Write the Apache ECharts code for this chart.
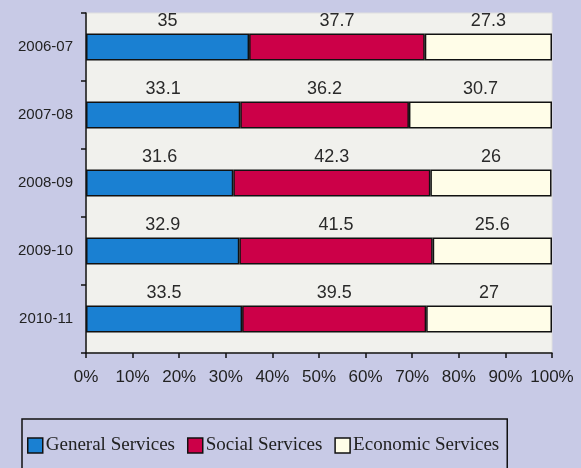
<!DOCTYPE html>
<html>
<head>
<meta charset="utf-8">
<script src="https://cdn.jsdelivr.net/npm/echarts@6/dist/echarts.min.js"></script>
<style>
html,body{margin:0;padding:0;background:#c8cae6;}
#chart{width:581px;height:468px;}
</style>
</head>
<body>
<div id="chart"></div>
<script>
const categories = ['2006-07', '2007-08', '2008-09', '2009-10', '2010-11'];
const generalServices = [35, 33.1, 31.6, 32.9, 33.5];
const socialServices = [37.7, 36.2, 42.3, 41.5, 39.5];
const economicServices = [27.3, 30.7, 26, 25.6, 27];
const seriesNames = ['General Services', 'Social Services', 'Economic Services'];
const xTicks = [0, 10, 20, 30, 40, 50, 60, 70, 80, 90, 100];

const chart = echarts.init(document.getElementById('chart'));
const labelStyle = {
  show: true,
  position: 'top',
  distance: 3,
  fontFamily: 'Liberation Sans, Arial, sans-serif',
  fontSize: 18,
  color: '#2a2a2a'
};
function mk(name, data, color) {
  return {
    name: name,
    type: 'bar',
    stack: 'total',
    data: data,
    barWidth: 27,
    itemStyle: { color: color, borderColor: '#111', borderWidth: 1.5 },
    label: labelStyle,
    emphasis: { disabled: true }
  };
}
chart.setOption({
  backgroundColor: '#c8cae6',
  animation: false,
  grid: {
    left: 86, right: 29, top: 13, bottom: 115,
    show: true, backgroundColor: '#f1f1ed', borderColor: '#e0e0e0', borderWidth: 1
  },
  legend: {
    data: seriesNames,
    left: 22, top: 419,
    orient: 'horizontal',
    itemWidth: 15, itemHeight: 15, itemGap: 12,
    padding: [17, 8, 20, 5],
    borderColor: '#111', borderWidth: 1.5,
    backgroundColor: 'transparent',
    textStyle: { fontFamily: 'Liberation Serif, Times New Roman, serif', fontSize: 19, color: '#222', padding: [0,0,0,-2] },
    itemStyle: { borderColor: '#111', borderWidth: 1.5 },
    icon: 'rect'
  },
  xAxis: {
    type: 'value', min: 0, max: 100, interval: 10,
    axisLine: { show: true, lineStyle: { color: '#111', width: 1.5 } },
    axisTick: { show: true, length: 5, lineStyle: { color: '#111', width: 1.5 } },
    splitLine: { show: false },
    axisLabel: {
      formatter: v => xTicks.includes(v) ? v + '%' : '',
      margin: 16, fontSize: 17, color: '#222',
      fontFamily: 'Liberation Sans, Arial, sans-serif'
    }
  },
  yAxis: {
    type: 'category', data: categories, inverse: true,
    axisLine: { show: true, lineStyle: { color: '#111', width: 1.5 } },
    axisTick: { show: true, length: 5, lineStyle: { color: '#111', width: 1.5 } },
    axisLabel: { margin: 13, fontSize: 15, color: '#222', fontFamily: 'Liberation Sans, Arial, sans-serif' }
  },
  series: [
    mk(seriesNames[0], generalServices, '#1a80d2'),
    mk(seriesNames[1], socialServices, '#cc0048'),
    mk(seriesNames[2], economicServices, '#fffde8')
  ]
});
</script>
</body>
</html>
